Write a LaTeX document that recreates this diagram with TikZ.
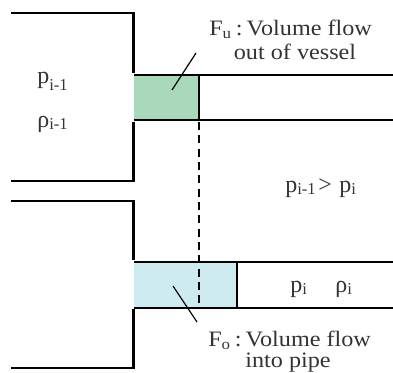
\documentclass[tikz,border=0pt]{standalone}
\usepackage{fontspec}
\setmainfont{Liberation Serif}
\definecolor{flowgreen}{HTML}{A9D8BA}
\definecolor{flowblue}{HTML}{CEEBF2}
\newcommand{\widetxt}[1]{\scalebox{1.1}[1]{#1}}
\tikzset{
    wall/.style={line width=1.6pt},
    pipe/.style={line width=1.3pt},
    leader/.style={line width=0.9pt},
    lbl/.style={font=\fontsize{16.5}{18}\selectfont, text=black!80, inner sep=0pt},
    sublbl/.style={font=\fontsize{18}{19}\selectfont, text=black!80, inner sep=0pt, anchor=base west},
    subtxt/.style={font=\fontsize{12.5}{13}\selectfont, text=black!80, inner sep=0pt, anchor=base west}
}
\begin{document}
\begin{tikzpicture}[x=0.75pt, y=-0.75pt]
    \useasboundingbox (0,0) rectangle (393,372);

    % upper state
    \fill[flowgreen] (134,75) rectangle (199,120);
    \draw[wall] (11,13)--(133.5,13)--(133.5,73);
    \draw[wall] (133.5,122)--(133.5,181)--(11,181);
    \draw[pipe] (134,75)--(393,75);
    \draw[pipe] (134,120)--(393,120);
    \draw[wall] (199,75)--(199,121);

    % lower state
    \fill[flowblue] (134,262) rectangle (237,308);
    \draw[wall] (11,201)--(133.5,201)--(133.5,260);
    \draw[wall] (133.5,309)--(133.5,368)--(11,368);
    \draw[pipe] (134,262)--(393,262);
    \draw[pipe] (134,308)--(393,308);
    \draw[pipe] (237,262)--(237,308);

    \draw[pipe, dash pattern=on 6pt off 4pt] (199,122)--(199,308);

    \coordinate (Fu) at (196,53);
    \coordinate (FuEnd) at (172,90);
    \coordinate (Fo) at (197,322);
    \coordinate (FoEnd) at (173,286);
    \draw[leader] (Fu)--(FuEnd);
    \draw[leader] (Fo)--(FoEnd);

    \node[lbl, anchor=base west] (flowup) at (209,35) {\widetxt{F\textsubscript{u}\,:\,Volume flow}};
    \node[lbl, anchor=base] (vesseltxt) at (295,59) {\widetxt{out of vessel}};
    \node[lbl, anchor=base west] (flowlow) at (208,346) {\widetxt{F\textsubscript{o}\,:\,Volume flow}};
    \node[lbl, anchor=base] (pipetxt) at (288,367) {\widetxt{into pipe}};

    \node[sublbl] (pup) at (37,83) {p};
    \node[subtxt] (pupsub) at (49,90) {i-1};
    \node[sublbl] (rhoup) at (37,127) {ρ};
    \node[subtxt] (rhoupsub) at (49,129) {i-1};
    \node[sublbl] (plow) at (290,292) {p};
    \node[subtxt] (plowsub) at (302,294) {i};
    \node[sublbl] (rholow) at (335,292) {ρ};
    \node[subtxt] (rholowsub) at (347,294) {i};
    \node[sublbl] (pcompa) at (285,192) {p};
    \node[subtxt] (pcompasub) at (297,194) {i-1};
    \node[sublbl] (pcompgt) at (318,192) {>};
    \node[sublbl] (pcompb) at (339,192) {p};
    \node[subtxt] (pcompbsub) at (351,194) {i};
\end{tikzpicture}
\end{document}
